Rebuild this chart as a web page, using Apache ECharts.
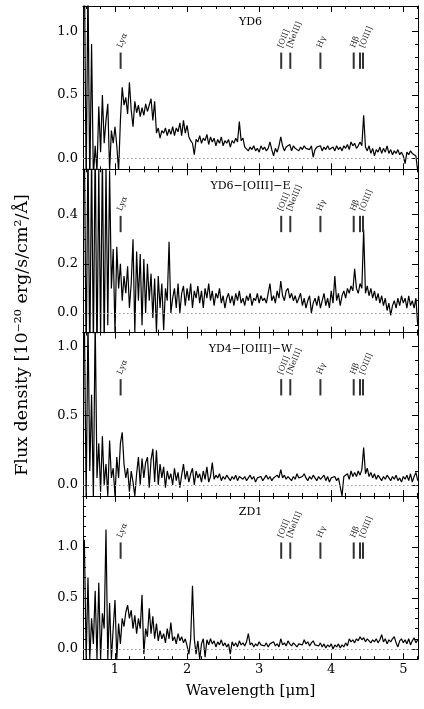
<!DOCTYPE html>
<html><head><meta charset="utf-8">
<script src="https://cdn.jsdelivr.net/npm/echarts@6/dist/echarts.min.js"></script>
<style>html,body{margin:0;padding:0;background:#fff}#c{width:424px;height:709px}</style>
</head><body><div id="c"></div>
<script>
// ---------- data ----------
const panelNames = ['YD6', 'YD6\u2212[OIII]\u2212E', 'YD4\u2212[OIII]\u2212W', 'ZD1'];
const waveStart = 0.575, waveStep = 0.025; // wavelength sampling [um]
const fluxYD6 = [
 1.5,-0.2,1.4,-0.2,0.9,-0.15,0.1,-0.1,0.41,0.05,
 0.5,0.12,0.3,0.43,-0.1,0.22,0.12,0.25,0.1,-0.1,
 0.3,0.56,0.42,0.48,0.35,0.6,0.38,0.25,0.45,0.36,
 0.42,0.33,0.4,0.34,0.43,0.37,0.38,0.47,0.3,0.45,
 0.2,0.24,0.16,0.22,0.2,0.24,0.18,0.23,0.19,0.25,
 0.18,0.24,0.21,0.28,0.18,0.3,0.2,0.26,0.17,0.14,
 0.12,0.03,0.15,0.13,0.18,0.12,0.16,0.14,0.19,0.11,
 0.17,0.13,0.16,0.1,0.15,0.12,0.17,0.1,0.14,0.12,
 0.15,0.09,0.14,0.12,0.16,0.13,0.29,0.14,0.16,0.09,
 0.1,0.06,0.09,0.07,0.1,0.06,0.08,0.05,0.1,0.07,
 0.09,0.06,0.08,0.13,0.07,0.02,0.08,0.05,0.1,0.17,
 0.1,0.06,0.09,0.08,0.11,0.06,0.1,0.08,0.09,0.06,
 0.09,0.07,0.1,0.08,0.09,0.07,0.1,0.01,0.07,0.09,
 0.08,0.1,0.06,0.09,0.07,0.1,0.07,0.08,0.09,0.06,
 0.1,0.07,0.09,0.06,0.1,0.08,0.11,0.07,0.13,0.1,
 0.12,0.08,0.1,0.13,0.1,0.34,0.09,0.06,0.1,0.04,
 0.08,0.02,0.07,0.05,0.09,0.04,0.08,0.05,0.1,0.04,
 0.07,0.03,0.06,0.04,0.07,0.03,0.05,0.02,-0.04,0.05,
 0.03,0.06,0.04,0.05,0.02,-0.1];
const fluxYD6E = [
 0.7,-0.2,0.7,-0.2,0.65,-0.15,0.7,-0.2,0.6,-0.1,
 0.65,-0.15,0.6,-0.05,0.58,0.1,0.26,-0.08,0.27,0.1,
 0.2,0.05,0.15,0.08,0.19,0.02,0.12,0.3,-0.08,0.25,
 0.05,0.24,-0.05,0.22,0.0,0.2,0.05,0.16,-0.02,0.14,
 -0.08,0.15,0.02,0.12,-0.07,0.1,0.05,0.29,0.0,0.06,
 0.1,0.02,0.12,0.0,0.08,0.11,0.03,0.1,0.05,0.12,
 0.02,0.09,0.06,0.11,0.04,0.09,0.02,0.1,0.06,0.12,
 0.05,0.09,0.03,0.08,0.06,0.1,0.04,0.07,0.02,0.06,
 0.08,0.04,0.07,0.03,0.08,0.05,0.09,0.04,0.06,0.03,
 0.07,0.05,0.08,0.03,0.06,0.05,0.08,0.04,0.07,0.05,
 0.06,0.04,0.08,0.12,0.05,0.07,0.04,0.09,0.06,0.13,
 0.07,0.05,0.09,0.1,0.06,0.08,0.05,0.07,0.04,0.06,
 0.08,0.03,0.06,0.02,0.05,0.07,0.0,0.04,0.06,0.03,
 0.07,0.02,0.05,0.08,0.03,0.06,0.02,0.09,0.04,0.15,
 0.05,0.08,0.03,0.07,0.09,0.06,0.1,0.08,0.11,0.09,
 0.18,0.1,0.08,0.12,0.1,0.34,0.08,0.11,0.07,0.1,
 0.06,0.09,0.05,0.08,0.04,0.07,0.03,0.06,0.01,0.04,
 -0.01,0.03,0.05,0.02,0.06,0.03,0.07,0.04,0.06,0.02,
 0.07,0.03,0.05,0.02,0.06,-0.05];
const fluxYD4W = [
 1.2,-0.1,1.2,0.1,0.65,-0.1,1.2,0.05,0.3,-0.05,
 0.35,0.0,0.15,-0.08,0.32,0.05,0.12,-0.08,0.2,0.05,
 0.3,0.38,0.15,0.05,0.12,-0.05,0.1,0.02,-0.08,0.08,
 0.2,0.0,0.19,0.05,0.16,0.2,-0.02,0.18,0.26,0.02,
 0.25,0.0,0.15,0.05,0.13,-0.02,0.1,0.04,0.08,0.0,
 0.12,0.03,0.09,-0.02,0.07,0.15,0.04,0.1,0.02,0.08,
 0.12,0.0,0.1,0.05,0.08,0.02,0.1,0.04,0.13,0.02,
 0.06,0.16,0.04,0.07,0.05,0.08,0.03,0.06,0.04,0.07,
 0.05,0.03,0.06,0.04,0.07,0.03,0.06,0.05,0.04,0.06,
 0.03,0.05,0.07,0.04,0.06,0.02,0.05,0.04,0.06,0.03,
 0.05,0.07,0.04,0.06,0.03,0.05,0.04,0.07,0.05,0.11,
 0.05,0.07,0.04,0.06,0.05,0.03,0.06,0.04,0.08,0.05,
 0.04,0.06,0.08,0.05,0.03,0.06,0.04,0.07,0.05,0.03,
 0.06,0.04,0.05,0.07,0.03,0.06,0.02,0.05,0.04,0.06,
 0.03,0.05,0.04,-0.08,0.06,0.05,0.08,0.04,0.1,0.06,
 0.09,0.06,0.1,0.07,0.11,0.27,0.08,0.12,0.06,0.09,
 0.05,0.08,0.04,0.07,0.05,0.03,0.06,0.04,0.07,0.05,
 0.03,0.06,0.04,0.07,0.03,0.05,0.02,0.06,0.04,0.07,
 0.03,0.08,0.02,0.06,0.09,0.03];
const fluxZD1 = [
 1.07,-0.1,0.7,-0.1,0.3,0.05,0.57,-0.1,0.65,-0.1,
 0.35,0.2,1.17,-0.1,0.45,-0.1,0.2,0.48,-0.1,0.25,
 0.05,0.3,0.22,0.36,0.43,0.3,0.38,0.2,0.33,0.15,
 0.3,0.2,0.53,-0.05,0.2,0.12,0.4,0.15,0.32,0.1,
 0.25,0.08,0.18,0.1,0.15,0.06,0.2,0.1,0.26,0.08,
 0.12,0.05,0.15,0.08,0.12,0.06,0.1,0.03,-0.05,0.1,
 0.62,0.1,-0.05,0.08,-0.1,0.05,0.1,-0.08,0.09,0.04,
 0.1,0.05,0.08,0.02,0.07,0.04,0.09,0.03,0.06,0.02,
 0.05,-0.05,0.07,0.03,0.06,0.02,0.08,0.04,0.06,0.03,
 0.07,0.15,0.04,0.06,0.02,0.05,0.03,0.07,0.04,0.05,
 0.03,0.06,0.02,0.05,0.04,0.07,0.03,0.05,0.02,0.1,
 0.04,0.06,0.03,0.08,0.05,0.03,0.06,0.04,0.02,0.05,
 0.06,0.04,0.09,0.05,0.07,0.03,0.06,0.08,0.04,0.05,
 0.03,0.06,0.02,0.05,0.01,0.04,0.02,0.05,0.0,0.04,
 0.02,0.05,0.01,0.04,0.02,0.06,0.03,0.1,0.07,0.09,
 0.06,0.1,0.08,0.12,0.09,0.11,0.07,0.1,0.08,0.06,
 0.09,0.07,0.1,0.06,0.09,0.14,0.07,0.1,0.05,0.09,
 0.07,0.1,0.12,0.06,0.02,0.08,0.1,0.06,0.09,0.05,
 0.1,0.04,0.08,0.11,0.06,0.09];
const lineWaves = [1.078, 3.306, 3.432, 3.850, 4.312, 4.399, 4.441];
const lineLabels = ['Ly\u03b1', '[OII]', '[NeIII]', 'H\u03b3', 'H\u03b2', '', '[OIII]'];
const xRange = [0.556, 5.204];
const xMajorTicks = [1, 2, 3, 4, 5];
const xMinorStep = 0.2;
const yRanges = [[-0.085, 1.2], [-0.08, 0.585], [-0.08, 1.1], [-0.1, 1.5]];
const yMajorTicks = [[0, 0.5, 1.0], [0, 0.2, 0.4], [0, 0.5, 1.0], [0, 0.5, 1.0]];
const yMinorSteps = [0.1, 0.05, 0.1, 0.1];
const xTitle = 'Wavelength [\u03bcm]';
const yTitle = 'Flux density [10\u207b\u00b2\u2070 erg/s/cm\u00b2/\u00c5]';

// ---------- build ----------
const FONT = 'DejaVu Serif';
const GL = 83, GR = 6, GT = 6, GH = 163.3;
const fluxes = [fluxYD6, fluxYD6E, fluxYD4W, fluxZD1];
function stepTicks(a, b, s) {
  const out = [];
  for (let k = Math.ceil(a / s - 1e-9); k * s <= b + 1e-9; k++) {
    const v = +(k * s).toFixed(4);
    if (v > a && v < b) out.push(v);
  }
  return out;
}
const xMinorTicks = stepTicks(xRange[0], xRange[1], xMinorStep);
const grids = [], xAxes = [], yAxes = [], series = [], titles = [];
const blk = { color: '#000', width: 1 };
for (let g = 0; g < 4; g++) {
  const top = GT + g * GH;
  grids.push({ left: GL, right: GR, top: top, height: GH });
  const isBottom = g === 3;
  const yr = yRanges[g];
  const yMinor = stepTicks(yr[0], yr[1], yMinorSteps[g]);
  const mk = (dim, pos, major, ticks, withLabel, extra) => Object.assign({
    type: 'value', gridIndex: g, position: pos,
    min: dim === 'x' ? xRange[0] : yr[0], max: dim === 'x' ? xRange[1] : yr[1],
    axisLine: { show: major, onZero: false, lineStyle: blk },
    axisTick: { show: true, inside: true, length: major ? 6 : 3, lineStyle: blk, customValues: ticks },
    axisLabel: withLabel ? { show: true, customValues: ticks, color: '#000', fontFamily: FONT, fontSize: 13,
      margin: dim === 'x' ? 4 : 5, formatter: v => dim === 'x' ? String(v) : v.toFixed(1) } : { show: false },
    splitLine: { show: false }, minorTick: { show: false }
  }, extra || {});
  xAxes.push(mk('x', 'bottom', true, xMajorTicks, isBottom, isBottom ? {
    name: xTitle, nameLocation: 'middle', nameGap: 24,
    nameTextStyle: { fontFamily: FONT, fontSize: 15, color: '#000' } } : {}));
  xAxes.push(mk('x', 'bottom', false, xMinorTicks, false));
  xAxes.push(mk('x', 'top', true, xMajorTicks, false));
  xAxes.push(mk('x', 'top', false, xMinorTicks, false));
  yAxes.push(mk('y', 'left', true, yMajorTicks[g], true));
  yAxes.push(mk('y', 'left', false, yMinor, false));
  yAxes.push(mk('y', 'right', true, yMajorTicks[g], false));
  yAxes.push(mk('y', 'right', false, yMinor, false));

  series.push({
    type: 'line', xAxisIndex: 4 * g, yAxisIndex: 4 * g,
    data: fluxes[g].map((v, i) => [waveStart + i * waveStep, v]),
    symbol: 'none', showSymbol: false, clip: true, z: 3,
    lineStyle: { color: '#000', width: 1.2 },
    markLine: { silent: true, symbol: ['none', 'none'], label: { show: false }, animation: false,
      lineStyle: { color: '#999', type: [1.5, 2.5], width: 1 }, data: [{ yAxis: 0 }] }
  });
  series.push({
    type: 'custom', xAxisIndex: 4 * g, yAxisIndex: 4 * g, z: 4,
    data: lineWaves.map((w, i) => [w, 0, i]),
    renderItem: (params, api) => {
      const x = api.coord([api.value(0), 0])[0];
      const cs = params.coordSys;
      const y1 = cs.y + 0.285 * cs.height, y2 = cs.y + 0.385 * cs.height;
      const ch = [{ type: 'line', shape: { x1: x, y1: y1, x2: x, y2: y2 },
        style: { stroke: '#333', lineWidth: 2 } }];
      const lab = lineLabels[api.value(2)];
      if (lab) ch.push({ type: 'text', x: x - 1, y: y1 - 5, rotation: 68 * Math.PI / 180,
        style: { text: lab, fill: '#222', font: '8px "DejaVu Serif"', align: 'left', verticalAlign: 'middle' } });
      return { type: 'group', children: ch };
    }
  });
  titles.push({ text: panelNames[g], left: 250.5, top: top + 11, textAlign: 'center', padding: 0,
    textStyle: { fontFamily: FONT, fontSize: 11, fontWeight: 'normal', color: '#000' } });
}

const chart = echarts.init(document.getElementById('c'), null, { renderer: 'canvas' });
chart.setOption({
  animation: false,
  backgroundColor: '#fff',
  title: titles,
  grid: grids, xAxis: xAxes, yAxis: yAxes, series: series,
  graphic: [{ type: 'text', x: 22, y: 335, rotation: Math.PI / 2,
    style: { text: yTitle, font: '17.5px "DejaVu Serif"', fill: '#000', align: 'center', verticalAlign: 'middle' } }]
});
</script></body></html>
